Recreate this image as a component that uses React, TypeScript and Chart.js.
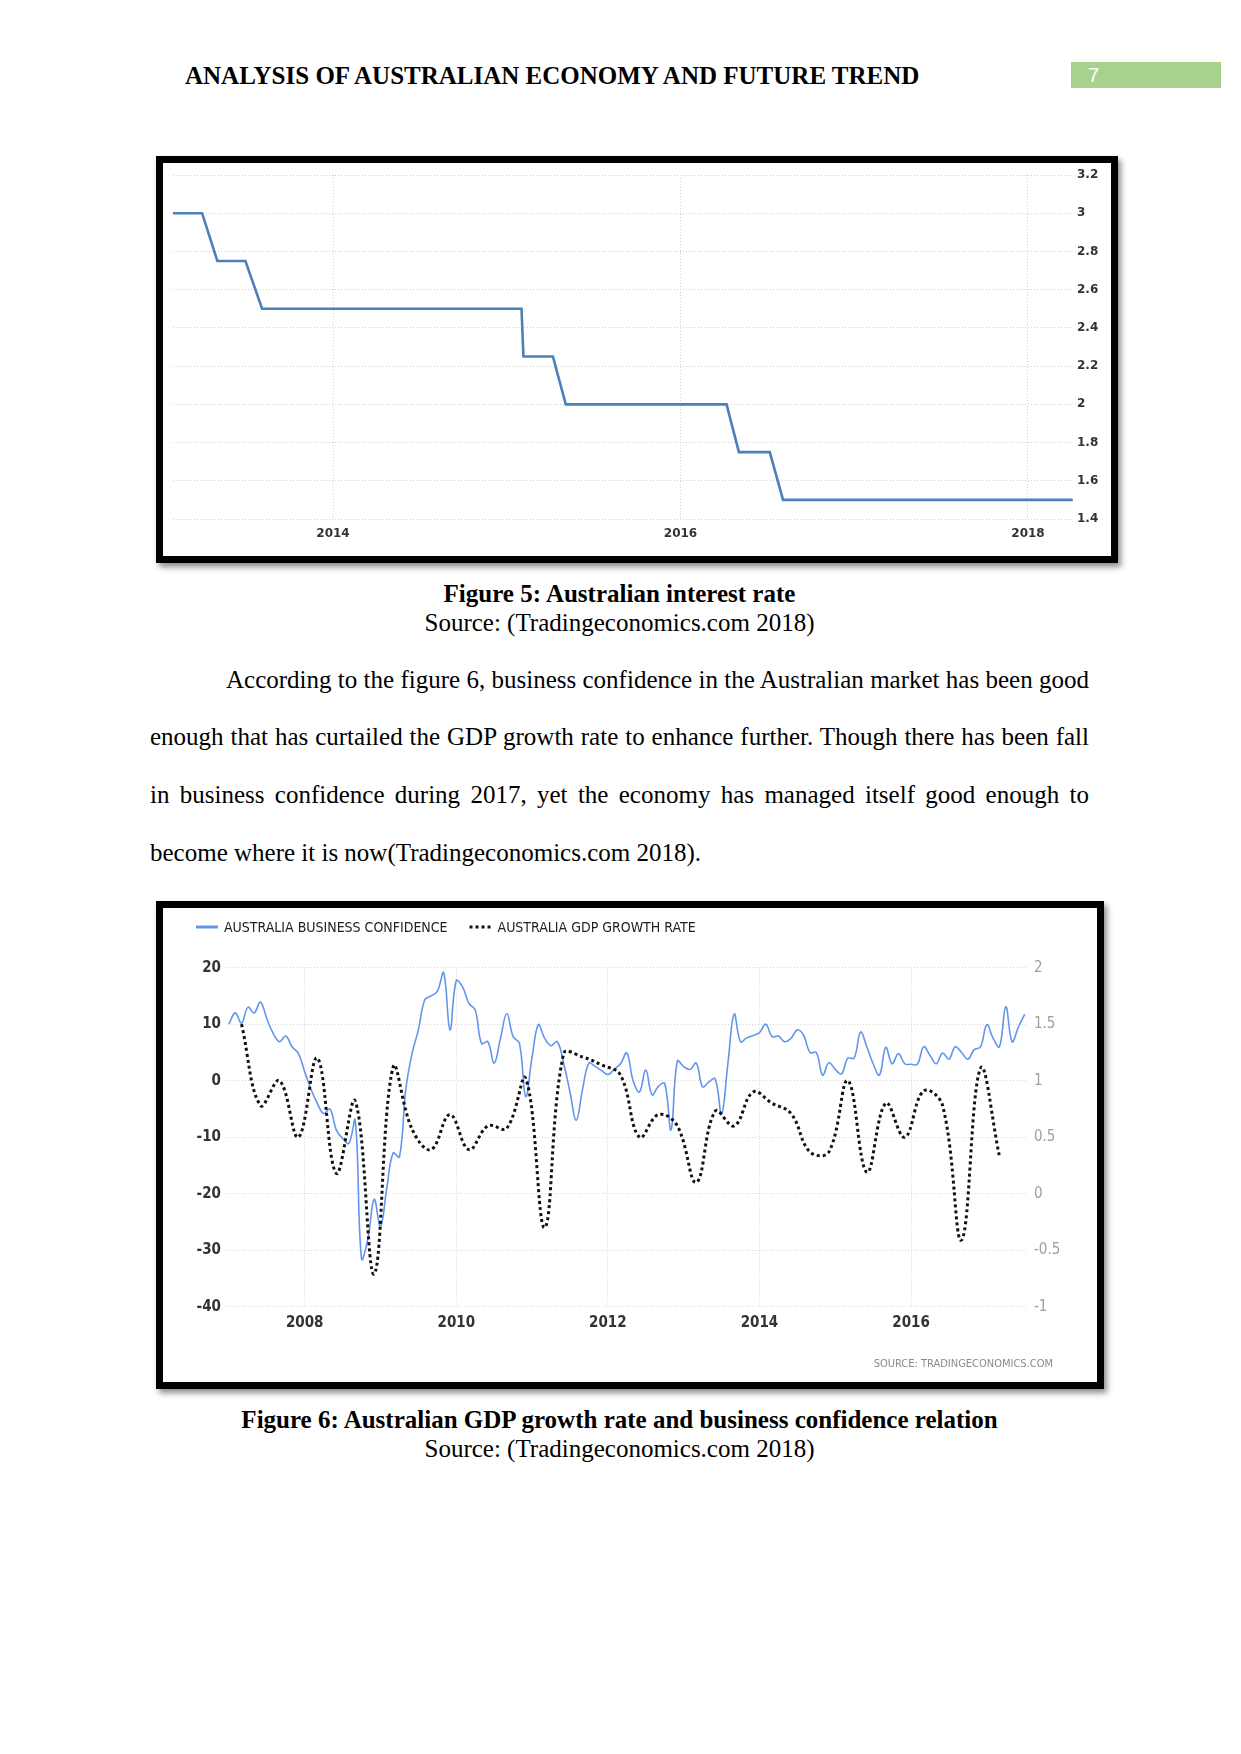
import React, { useEffect, useRef } from "react";
import { Chart, registerables } from "chart.js";

Chart.register(...registerables);

// ---------- Figure 5: Australian interest rate ----------
const rateDates = [
  "2013-01-29", "2013-04-01", "2013-05-03", "2013-07-01", "2013-08-05",
  "2015-02-01", "2015-02-05", "2015-04-08", "2015-05-05", "2016-04-07",
  "2016-05-03", "2016-07-07", "2016-08-04", "2018-04-05",
];
const rateValues = [3.0, 3.0, 2.75, 2.75, 2.5, 2.5, 2.25, 2.25, 2.0, 2.0, 1.75, 1.75, 1.5, 1.5];
const rateYearTicks = [2014, 2016, 2018];

// ---------- Figure 6: business confidence (monthly, from Jan 2007) ----------
const bcStartMonth = "2007-01";
const bcValues = [
  10, 12, 10.2, 13, 12, 13.9, 11, 8.4, 6.9, 7.9, 6.0, 4.85,
  1.6, -1.5, -4.0, -5.8, -5.0, -8.7, -10.2, -11.1, -7.0, -31.5, -28, -21,
  -25.8, -19, -12.8, -13.5, -1.6, 4.85, 9, 14.3, 15.0, 15.8, 19.1, 9.0,
  17.7, 16.6, 13.7, 12.5, 6.6, 6.9, 3.1, 7.5, 11.9, 7.8, 6.6, -2.8,
  4.2, 9.9, 7.5, 6.2, 6.9, 3.1, -2, -7.0, -1.5, 3.1, 2.5, 1.8,
  1.1, 2.0, 3.0, 4.9, 0, -2.0, 1.9, -2.5, -1.0, -0.5, -8.7, 3.5,
  2.5, 2.0, 3.1, -1.1, -0.2, 0.3, -5.9, 3.0, 11.8, 6.9, 7.6, 8.0,
  8.5, 10.0, 7.8, 7.9, 6.9, 7.5, 9.0, 8.0, 5.0, 5.0, 1.0, 3.2,
  2.0, 1.2, 4.0, 4.0, 8.6, 6.0, 3.0, 1.0, 5.9, 3.0, 4.8, 3.0,
  2.9, 2.9, 6.0, 4.5, 3.0, 4.9, 3.8, 6.0, 5.0, 3.8, 5.5, 6.0,
  9.9, 7.5, 6.0, 13.1, 6.9, 9.5, 11.8,
];

// ---------- Figure 6: GDP growth rate (quarterly, from Mar 2007) ----------
const gdpStartMonth = "2007-03";
const gdpValues = [
  1.5, 0.78, 1.0, 0.5, 1.2, 0.18, 0.82, -0.71, 1.12, 0.57,
  0.39, 0.7, 0.39, 0.6, 0.58, 1.02, -0.3, 1.24, 1.21, 1.14,
  1.05, 0.5, 0.7, 0.6, 0.1, 0.73, 0.6, 0.9, 0.8, 0.71,
  0.37, 0.37, 1.0, 0.19, 0.8, 0.5, 0.91, 0.78, -0.41, 1.11,
  0.33,
];
const bcYearTicks = [2008, 2010, 2012, 2014, 2016];
const bcLabel = "AUSTRALIA BUSINESS CONFIDENCE";
const gdpLabel = "AUSTRALIA GDP GROWTH RATE";
const sourceNote = "SOURCE: TRADINGECONOMICS.COM";

// ---------- helpers ----------
function decimalYear(s: string): number {
  const parts = s.split("-").map(Number);
  const y = parts[0];
  const m = parts[1];
  const d = parts[2];
  if (d === undefined) return y + (m - 1) / 12;
  const start = Date.UTC(y, 0, 1);
  const end = Date.UTC(y + 1, 0, 1);
  return y + (Date.UTC(y, m - 1, d) - start) / (end - start);
}

function monthSeq(start: string, count: number, step: number): string[] {
  const [y0, m0] = start.split("-").map(Number);
  const out: string[] = [];
  for (let i = 0; i < count; i++) {
    const t = m0 - 1 + i * step;
    out.push(`${y0 + Math.floor(t / 12)}-${String((t % 12) + 1).padStart(2, "0")}`);
  }
  return out;
}

const bcMonths = monthSeq(bcStartMonth, bcValues.length, 1);
const gdpQuarters = monthSeq(gdpStartMonth, gdpValues.length, 3);

const NARROW = '"Liberation Sans Narrow", "DejaVu Sans Condensed", "Liberation Sans", sans-serif';
const TE_FONT = '"DejaVu Sans", Verdana, sans-serif';

function RateChart() {
  const ref = useRef<HTMLCanvasElement | null>(null);
  useEffect(() => {
    if (!ref.current) return;
    const chart = new Chart(ref.current, {
      type: "line",
      data: {
        datasets: [
          {
            label: "Australia Interest Rate",
            data: rateDates.map((d, i) => ({ x: decimalYear(d), y: rateValues[i] })),
            borderColor: "#4b80b8",
            borderWidth: 2.6,
            pointRadius: 0,
            tension: 0,
            fill: false,
          },
        ],
      },
      options: {
        animation: false,
        responsive: false,
        maintainAspectRatio: false,
        layout: { padding: { left: 10, top: 12, right: 0, bottom: 0 } },
        plugins: { legend: { display: false }, tooltip: { enabled: false } },
        scales: {
          x: {
            type: "linear",
            min: 2013.079,
            max: 2018.259,
            afterBuildTicks: (s: any) => {
              s.ticks = rateYearTicks.map((v) => ({ value: v }));
            },
            afterFit: (s: any) => {
              s.height = 37;
            },
            grid: { color: "#cfcfcf", drawTicks: false, lineWidth: 1 },
            border: { display: false, dash: [1, 2] },
            ticks: {
              autoSkip: false,
              maxRotation: 0,
              padding: 8,
              color: "#333",
              font: { family: TE_FONT, size: 12, weight: "bold" },
              callback: (v: any) => String(v),
            },
          },
          y: {
            position: "right",
            min: 1.4,
            max: 3.2,
            afterFit: (s: any) => {
              s.width = 38;
            },
            grid: { color: "#cfcfcf", drawTicks: false, lineWidth: 1 },
            border: { display: false, dash: [1, 2] },
            ticks: {
              stepSize: 0.2,
              padding: 4,
              color: "#333",
              font: { family: TE_FONT, size: 12, weight: "bold" },
              callback: (v: any) => String(Math.round(Number(v) * 10) / 10),
            },
          },
        },
      } as any,
    });
    return () => chart.destroy();
  }, []);
  return <canvas ref={ref} width={948} height={393} style={{ display: "block", width: 948, height: 393 }} />;
}

const fig6Decor = {
  id: "fig6Decor",
  afterDraw(chart: any) {
    const ctx = chart.ctx as CanvasRenderingContext2D;
    ctx.save();
    ctx.font = `14px ${NARROW}`;
    ctx.textBaseline = "middle";
    ctx.textAlign = "left";
    let x = 33;
    const y = 19;
    chart.data.datasets.forEach((ds: any) => {
      ctx.beginPath();
      ctx.setLineDash(ds.borderDash || []);
      ctx.strokeStyle = ds.borderColor;
      ctx.lineWidth = 3;
      ctx.moveTo(x, y);
      ctx.lineTo(x + 22, y);
      ctx.stroke();
      ctx.setLineDash([]);
      ctx.fillStyle = "#222";
      ctx.fillText(ds.label, x + 28, y + 1);
      x = x + 28 + ctx.measureText(ds.label).width + 22;
    });
    ctx.font = `11px ${NARROW}`;
    ctx.fillStyle = "#8a8a8a";
    ctx.textAlign = "right";
    ctx.fillText(sourceNote, 890, 456);
    ctx.restore();
  },
};

function ConfidenceChart() {
  const ref = useRef<HTMLCanvasElement | null>(null);
  useEffect(() => {
    if (!ref.current) return;
    const chart = new Chart(ref.current, {
      type: "line",
      data: {
        datasets: [
          {
            label: bcLabel,
            data: bcMonths.map((m, i) => ({ x: decimalYear(m), y: bcValues[i] })),
            yAxisID: "y",
            borderColor: "#6495ed",
            borderWidth: 1.6,
            pointRadius: 0,
            tension: 0.4,
            fill: false,
            order: 1,
          },
          {
            label: gdpLabel,
            data: gdpQuarters.map((m, i) => ({ x: decimalYear(m), y: gdpValues[i] })),
            yAxisID: "y1",
            borderColor: "#111111",
            borderWidth: 3,
            borderDash: [3, 3],
            pointRadius: 0,
            tension: 0.4,
            fill: false,
            order: 0,
          },
        ],
      },
      options: {
        animation: false,
        responsive: false,
        maintainAspectRatio: false,
        layout: { padding: { left: 0, top: 59.7, right: 0, bottom: 0 } },
        plugins: { legend: { display: false }, tooltip: { enabled: false } },
        scales: {
          x: {
            type: "linear",
            min: 2006.975,
            max: 2017.53,
            afterBuildTicks: (s: any) => {
              s.ticks = bcYearTicks.map((v) => ({ value: v }));
            },
            afterFit: (s: any) => {
              s.height = 75.3;
            },
            grid: { color: "#d6d6d6", drawTicks: false, lineWidth: 1 },
            border: { display: false, dash: [1, 2] },
            ticks: {
              autoSkip: false,
              maxRotation: 0,
              padding: 7,
              color: "#333",
              font: { family: NARROW, size: 15, weight: "bold" },
              callback: (v: any) => String(v),
            },
          },
          y: {
            position: "left",
            min: -40,
            max: 20,
            afterFit: (s: any) => {
              s.width = 64;
            },
            grid: { color: "#d6d6d6", drawTicks: false, lineWidth: 1 },
            border: { display: false, dash: [1, 2] },
            ticks: {
              stepSize: 10,
              padding: 6,
              color: "#333",
              font: { family: NARROW, size: 15, weight: "bold" },
            },
          },
          y1: {
            position: "right",
            min: -1,
            max: 2,
            afterFit: (s: any) => {
              s.width = 70;
            },
            grid: { display: false, drawTicks: false },
            border: { display: false },
            ticks: {
              stepSize: 0.5,
              padding: 7,
              color: "#a0a0a0",
              font: { family: NARROW, size: 15 },
              callback: (v: any) => String(Math.round(Number(v) * 10) / 10),
            },
          },
        },
      } as any,
      plugins: [fig6Decor],
    });
    return () => chart.destroy();
  }, []);
  return <canvas ref={ref} width={934} height={474} style={{ display: "block", width: 934, height: 474 }} />;
}

const lineStyle: React.CSSProperties = {
  position: "absolute",
  left: 150,
  width: 939,
  fontSize: 25,
  lineHeight: "29px",
  whiteSpace: "nowrap",
};

export default function App() {
  return (
    <div
      style={{
        position: "absolute",
        left: 0,
        top: 0,
        width: 1241,
        height: 1754,
        background: "#fff",
        color: "#000",
        fontFamily: '"Liberation Serif", "Times New Roman", serif',
        overflow: "hidden",
      }}
    >
      <div style={{ ...lineStyle, left: 185, width: "auto", top: 61, fontWeight: "bold" }}>
        ANALYSIS OF AUSTRALIAN ECONOMY AND FUTURE TREND
      </div>
      <div
        style={{
          position: "absolute",
          left: 1071,
          top: 62,
          width: 150,
          height: 26,
          background: "#a9d18e",
          color: "#fff",
          fontFamily: '"Liberation Sans", sans-serif',
          fontSize: 20,
          lineHeight: "26px",
        }}
      >
        <span style={{ marginLeft: 17 }}>7</span>
      </div>

      <div
        style={{
          position: "absolute",
          left: 156,
          top: 156,
          width: 948,
          height: 393,
          border: "7px solid #000",
          background: "#fff",
          boxShadow: "3px 4px 6px rgba(0,0,0,0.45)",
        }}
      >
        <RateChart />
      </div>

      <div style={{ ...lineStyle, top: 578.5, textAlign: "center", fontWeight: "bold" }}>
        Figure 5: Australian interest rate
      </div>
      <div style={{ ...lineStyle, top: 607.5, textAlign: "center" }}>Source: (Tradingeconomics.com 2018)</div>

      <div style={{ ...lineStyle, top: 664.5, left: 226, width: 863, textAlign: "justify", textAlignLast: "justify" }}>
        According to the figure 6, business confidence in the Australian market has been good
      </div>
      <div style={{ ...lineStyle, top: 721.5, textAlign: "justify", textAlignLast: "justify" }}>
        enough that has curtailed the GDP growth rate to enhance further. Though there has been fall
      </div>
      <div style={{ ...lineStyle, top: 779.5, textAlign: "justify", textAlignLast: "justify" }}>
        in business confidence during 2017, yet the economy has managed itself good enough to
      </div>
      <div style={{ ...lineStyle, top: 837.5 }}>become where it is now(Tradingeconomics.com 2018).</div>

      <div
        style={{
          position: "absolute",
          left: 156,
          top: 901,
          width: 934,
          height: 474,
          border: "7px solid #000",
          background: "#fff",
          boxShadow: "3px 4px 6px rgba(0,0,0,0.45)",
        }}
      >
        <ConfidenceChart />
      </div>

      <div style={{ ...lineStyle, top: 1404.5, textAlign: "center", fontWeight: "bold" }}>
        Figure 6: Australian GDP growth rate and business confidence relation
      </div>
      <div style={{ ...lineStyle, top: 1433.5, textAlign: "center" }}>Source: (Tradingeconomics.com 2018)</div>
    </div>
  );
}
